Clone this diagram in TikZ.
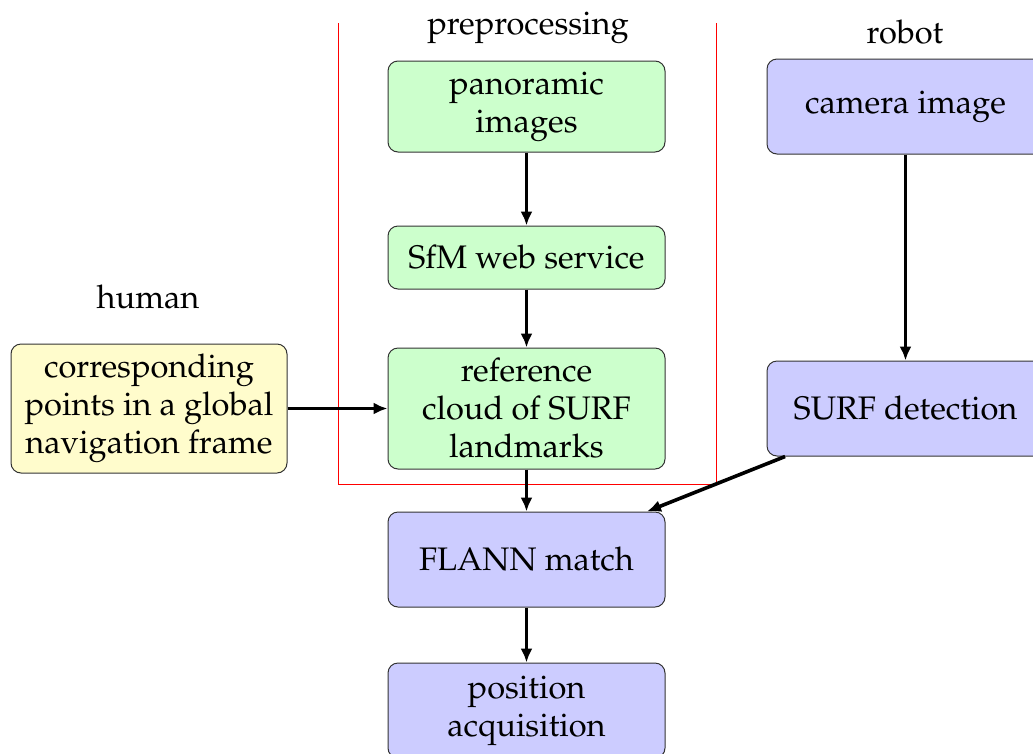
\documentclass[tikz,border=0pt]{standalone}
\usepackage[T1]{fontenc}
\usepackage{mathpazo}
\usetikzlibrary{arrows.meta}
\tikzset{
  box/.style={draw=black!80, line width=1pt, rounded corners=10pt, minimum width=277pt, inner sep=3pt, align=center, font=\fontsize{32.6}{38}\selectfont},
  gbox/.style={box, fill=green!20},
  bbox/.style={box, fill=blue!20},
  ybox/.style={box, fill=yellow!20},
  lab/.style={font=\fontsize{32.6}{38}\selectfont, inner sep=0pt},
  arr/.style={line width=3.6pt, -{Latex[length=14pt,width=12pt]}},
}
\begin{document}
\begin{tikzpicture}[x=1pt,y=-1pt]
\useasboundingbox (0,0) rectangle (1033,753);
\coordinate (f1) at (338,23);
\coordinate (f2) at (338,484);
\coordinate (f3) at (716,484);
\coordinate (f4) at (716,23);
\draw[red, line width=1pt] (f1) -- (f2) -- (f3) -- (f4);
\node[lab] (pre) at (528,28) {preprocessing};
\node[lab] (rob) at (905,32) {robot};
\node[lab] (hum) at (148,297) {human};
\node[gbox, minimum height=91pt] (pan) at (526.5,106.5) {panoramic\\images};
\node[gbox, minimum height=63pt] (sfm) at (526.5,257.5) {SfM web service};
\node[gbox, minimum height=121pt] (ref) at (526.5,408.5) {reference\\cloud of SURF\\landmarks};
\node[bbox, minimum height=95pt] (fla) at (526.5,559.5) {FLANN match};
\node[bbox, minimum height=95pt] (pos) at (526.5,710.5) {position\\acquisition};
\node[bbox, minimum height=95pt] (cam) at (905.5,106.5) {camera image};
\node[bbox, minimum height=95pt] (surf) at (905.5,408.5) {SURF detection};
\node[ybox, minimum height=129pt, minimum width=276pt] (cor) at (149,408.5) {corresponding\\points in a global\\navigation frame};
\draw[arr] (pan) -- (sfm);
\draw[arr] (sfm) -- (ref);
\draw[arr] (ref) -- (fla);
\draw[arr] (fla) -- (pos);
\draw[arr] (cam) -- (surf);
\draw[arr] (cor) -- (ref);
\draw[arr] (surf) -- (fla);
\end{tikzpicture}
\end{document}
